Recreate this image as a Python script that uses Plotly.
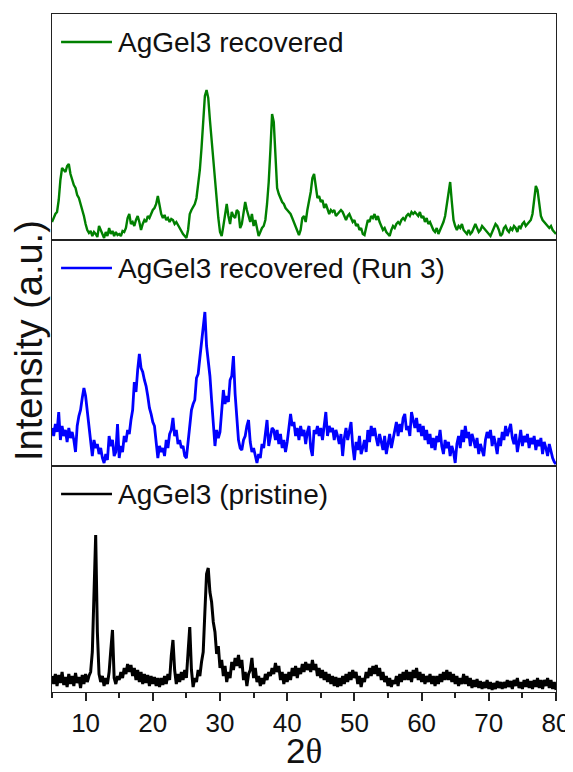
import numpy as np
import plotly.graph_objects as go
from plotly.subplots import make_subplots

# 2-theta grid (degrees), 0.25 deg step
TWO_THETA = np.round(np.arange(5.0, 80.0001, 0.25), 2)

# Intensities (a.u.)
RECOVERED = [
    18, 22, 26, 28,  40, 60, 72, 70,  68, 74, 76, 66,  60, 55, 52, 45,
    42, 36, 32, 24,  16, 10, 7, 9,  4, 8, 6, 3,  14, 10, 6, 2,
    8, 4, 12, 6,  9, 4, 8, 5,  6, 4, 9, 8,  12, 22, 26, 16,
    18, 14, 20, 24,  18, 10, 16, 20,  18, 24, 22, 26,  30, 32, 36, 44,
    34, 26, 22, 25,  20, 22, 18, 21,  20, 16, 18, 15,  12, 8, 6, 4,
    2, 10, 26, 30,  33, 36, 42, 56,  70, 92, 120, 144,  150, 142, 120, 100,
    80, 58, 40, 22,  8, 4, 14, 26,  36, 24, 16, 28,  24, 22, 30, 28,
    12, 16, 30, 38,  30, 24, 18, 26,  14, 20, 10, 4,  8, 12, 14, 20,
    36, 58, 90, 126,  118, 80, 52, 46,  42, 38, 36, 32,  30, 28, 26, 22,
    18, 14, 10, 5,  10, 22, 24, 18,  30, 38, 48, 62,  66, 54, 42, 44,
    38, 40, 32, 36,  30, 26, 30, 28,  30, 24, 26, 28,  30, 28, 24, 20,
    24, 26, 22, 18,  20, 14, 16, 10,  12, 6, 5, 14,  20, 18, 24, 22,
    26, 20, 24, 18,  14, 10, 12, 8,  6, 4, 10, 14,  12, 16, 18, 16,
    20, 22, 20, 24,  26, 24, 28, 26,  28, 26, 24, 28,  22, 24, 18, 22,
    16, 18, 14, 10,  8, 12, 6, 10,  14, 18, 24, 36,  50, 58, 38, 20,
    14, 10, 14, 12,  16, 10, 8, 6,  10, 6, 8, 12,  16, 12, 8, 10,
    14, 12, 10, 8,  6, 4, 8, 12,  16, 14, 10, 4,  6, 12, 14, 10,
    8, 12, 10, 14,  12, 8, 14, 12,  16, 18, 14, 16,  18, 20, 26, 38,
    54, 50, 34, 24,  20, 18, 16, 14,  12, 14, 10, 8,
    6,
]

RECOVERED_RUN3 = [
    38, 30, 42, 34,  54, 26, 40, 30,  36, 24, 38, 28,  34, 26, 14, 40,
    50, 56, 68, 78,  70, 56, 40, 24,  10, 26, 18, 22,  12, 18, 8, 3,
    12, 6, 30, 20,  26, 10, 14, 42,  8, 20, 14, 30,  24, 36, 32, 46,
    56, 84, 74, 96,  112, 98, 94, 86,  80, 70, 58, 52,  44, 40, 26, 8,
    20, 14, 18, 10,  26, 18, 32, 36,  48, 30, 36, 22,  26, 18, 20, 10,
    8, 24, 40, 56,  62, 66, 88, 92,  108, 124, 138, 154,  120, 106, 90, 66,
    40, 20, 36, 28,  34, 58, 76, 62,  70, 64, 86, 90,  110, 72, 46, 26,
    18, 16, 26, 30,  40, 46, 24, 14,  18, 10, 3, 12,  8, 22, 18, 32,
    46, 20, 30, 38,  36, 26, 36, 22,  32, 18, 26, 14,  24, 36, 52, 40,
    44, 30, 38, 26,  40, 30, 36, 22,  34, 40, 18, 10,  36, 32, 40, 30,
    38, 26, 42, 54,  30, 40, 34, 38,  26, 36, 30, 22,  32, 10, 28, 38,
    26, 34, 44, 20,  6, 24, 16, 30,  12, 18, 26, 14,  36, 24, 40, 30,
    38, 28, 20, 32,  24, 16, 30, 12,  22, 32, 18, 28,  36, 44, 30, 42,
    34, 48, 52, 36,  40, 30, 54, 46,  38, 48, 34, 42,  30, 40, 26, 36,
    22, 32, 18, 28,  16, 30, 24, 36,  20, 12, 26, 18,  24, 10, 20, 14,
    3, 22, 30, 18,  36, 24, 40, 28,  34, 20, 32, 26,  18, 28, 12, 22,
    16, 10, 26, 34,  28, 36, 20, 30,  22, 12, 28, 20,  34, 26, 40, 30,
    36, 42, 28, 22,  32, 14, 24, 36,  20, 30, 24, 32,  18, 28, 22, 30,
    16, 26, 20, 28,  12, 24, 18, 10,  22, 14, 8, 4,
    2,
]

PRISTINE = [
    16, 8, 18, 6,  17, 9, 20, 7,  15, 5, 18, 8,  16, 6, 19, 9,
    15, 4, 17, 8,  18, 10, 16, 20,  40, 110, 157, 60,  18, 10, 16, 6,
    14, 8, 20, 42,  62, 14, 8, 16,  12, 20, 14, 24,  18, 28, 20, 27,
    16, 24, 12, 22,  10, 20, 8, 18,  9, 17, 6, 16,  8, 15, 6, 14,
    5, 14, 7, 16,  8, 18, 12, 36,  52, 22, 8, 18,  10, 20, 12, 22,
    14, 40, 65, 22,  5, 14, 10, 22,  16, 30, 40, 80,  118, 124, 100, 90,
    70, 60, 38, 46,  24, 32, 16, 26,  10, 20, 14, 30,  22, 34, 26, 37,
    24, 32, 12, 20,  6, 18, 22, 34,  14, 24, 10, 16,  6, 14, 8, 18,
    12, 20, 16, 24,  18, 29, 20, 26,  12, 20, 8, 18,  10, 20, 12, 24,
    16, 26, 14, 24,  18, 28, 20, 30,  22, 28, 20, 32,  22, 28, 16, 24,
    14, 22, 12, 20,  10, 18, 8, 16,  6, 15, 5, 14,  6, 16, 8, 18,
    10, 20, 12, 22,  14, 20, 8, 16,  5, 14, 10, 20,  14, 24, 16, 26,
    18, 27, 16, 24,  12, 20, 10, 16,  6, 14, 5, 12,  8, 16, 6, 18,
    10, 20, 12, 22,  12, 20, 10, 22,  14, 24, 12, 20,  10, 18, 8, 16,
    10, 18, 8, 16,  6, 16, 8, 18,  10, 20, 12, 22,  12, 20, 10, 18,
    8, 16, 6, 14,  8, 18, 8, 16,  6, 14, 4, 12,  5, 13, 4, 11,
    3, 10, 4, 12,  3, 10, 2, 9,  3, 11, 4, 10,  3, 10, 4, 12,
    5, 11, 3, 12,  6, 14, 4, 10,  3, 12, 5, 13,  4, 11, 3, 12,
    5, 14, 4, 12,  3, 12, 6, 14,  4, 12, 3, 10,
    2,
]

SERIES = [RECOVERED, RECOVERED_RUN3, PRISTINE]
SERIES_NAMES = ["AgGel3 recovered", "AgGel3 recovered (Run 3)", "AgGel3 (pristine)"]
SERIES_COLORS = ["#008000", "#0000FF", "#000000"]
SERIES_WIDTHS = [2.4, 2.8, 3.0]
X_TICKS = [10, 20, 30, 40, 50, 60, 70, 80]
X_RANGE = [5, 80]
Y_RANGE = [0, 226]

FONT = "Liberation Sans, Arial, sans-serif"
AXIS_COLOR = "#222222"
TEXT_COLOR = "#111111"

fig = make_subplots(rows=3, cols=1, shared_xaxes=True, vertical_spacing=0)

for i, (vals, name, color, lw) in enumerate(zip(SERIES, SERIES_NAMES, SERIES_COLORS, SERIES_WIDTHS)):
    row = i + 1
    fig.add_trace(
        go.Scatter(x=TWO_THETA, y=vals, mode="lines", name=name,
                   line=dict(color=color, width=lw), showlegend=False),
        row=row, col=1,
    )
    suffix = "" if row == 1 else str(row)
    # legend sample line and label inside each panel
    fig.add_shape(type="line", xref=f"x{suffix} domain", yref=f"y{suffix} domain",
                  x0=0.018, x1=0.119, y0=0.876, y1=0.876,
                  line=dict(color=color, width=2.4))
    fig.add_annotation(text=name, xref=f"x{suffix} domain", yref=f"y{suffix} domain",
                       x=0.127, y=0.876, xanchor="left", yanchor="middle",
                       showarrow=False, font=dict(family=FONT, size=28, color=TEXT_COLOR))

for row in (1, 2, 3):
    fig.update_xaxes(range=X_RANGE, showline=True, mirror=True, linecolor=AXIS_COLOR,
                     linewidth=1.3, showgrid=False, zeroline=False, automargin=False,
                     row=row, col=1)
    fig.update_yaxes(range=Y_RANGE, showline=True, mirror=True, linecolor=AXIS_COLOR,
                     linewidth=1.3, showgrid=False, zeroline=False, showticklabels=False,
                     ticks="", automargin=False, row=row, col=1)

fig.update_xaxes(ticks="", showticklabels=False, row=1, col=1)
fig.update_xaxes(ticks="", showticklabels=False, row=2, col=1)
fig.update_xaxes(
    tickmode="array", tickvals=X_TICKS, ticktext=[str(t) for t in X_TICKS],
    ticks="outside", ticklen=8, tickwidth=1.5, tickcolor=AXIS_COLOR,
    minor=dict(ticks="outside", dtick=5, tick0=5, ticklen=5, tickwidth=1.5, tickcolor=AXIS_COLOR),
    showticklabels=True, tickfont=dict(family=FONT, size=26, color=TEXT_COLOR),
    row=3, col=1,
)

# x-axis title
fig.add_annotation(text="2<span style=\"font-family:Liberation Serif\">θ</span>",
                   xref="paper", yref="paper", x=0.5, y=-0.087,
                   xanchor="center", yanchor="middle", showarrow=False,
                   font=dict(family=FONT, size=35, color=TEXT_COLOR))

# y-axis title
fig.add_annotation(text="Intensity (a.u.)", xref="paper", yref="paper",
                   x=-0.046, y=0.519, xanchor="center", yanchor="middle",
                   textangle=-90, showarrow=False,
                   font=dict(family=FONT, size=38, color=TEXT_COLOR))

# the page body adds an 8px offset, so the figure is sized to fit the window
fig.update_layout(
    width=565, height=764,
    margin=dict(l=44, r=17, t=6, b=80, autoexpand=False),
    paper_bgcolor="white", plot_bgcolor="white",
    showlegend=False,
)

fig.write_html("out.html")
